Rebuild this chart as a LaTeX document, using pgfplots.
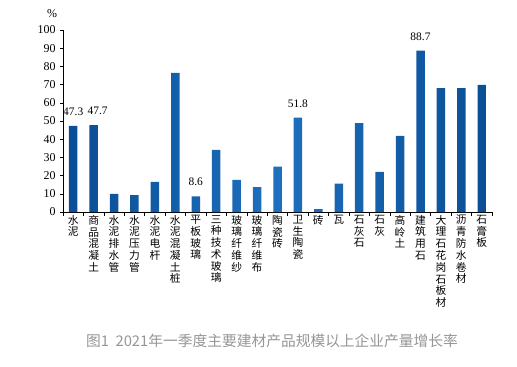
\documentclass[border=0pt]{standalone}
\usepackage{pgfplots}
\pgfplotsset{compat=1.18}
\usepackage{pgfplotstable}
\usepackage{fontspec}
\setmainfont{Liberation Serif}
\newfontfamily\cjk{Noto Sans CJK SC}
\definecolor{barmid}{RGB}{30,112,190}
\definecolor{baredge}{RGB}{10,78,150}
\definecolor{capgray}{RGB}{150,150,150}
\pgfplotstableread{
x y lab xs
0 47.3 47.3 0
1 47.7 47.7 4
2 9.9 {} 0
3 9.3 {} 0
4 16.5 {} 0
5 76.4 {} 0
6 8.6 8.6 0
7 34.1 {} 0
8 17.6 {} 0
9 13.7 {} 0
10 24.9 {} 0
11 51.8 51.8 0
12 1.6 {} 0
13 15.6 {} 0
14 48.9 {} 0
15 22.0 {} 0
16 41.8 {} 0
17 88.7 88.7 0
18 68.1 {} 0
19 68.1 {} 0
20 69.8 {} 0
}\data
\begin{document}
\begin{tikzpicture}
\path[use as bounding box] (-63bp,-155bp) rectangle (454bp,212bp);
\begin{axis}[
  at={(0,0)}, anchor=south west,
  scale only axis, width=429bp, height=182bp,
  xmin=-0.5, xmax=20.5, ymin=0, ymax=100,
  axis x line*=bottom, axis y line*=left,
  ytick={0,10,...,100},
  xtick={0,...,20},
  major x tick style={draw=none},
  minor xtick={-0.5,0.5,...,20.5},
  minor tick length=4bp,
  major tick length=3bp,
  tick align=outside,
  tick style={black, line width=0.6pt},
  axis line style={black, line width=0.6pt},
  /pgf/number format/assume math mode=true,
  yticklabel style={font=\fontsize{12}{12}\selectfont, xshift=-1bp},
  xticklabel style={font=\cjk\fontsize{10.8}{11.8}\selectfont, align=center, anchor=north, yshift=1bp, inner sep=1bp},
  xticklabels={{水\\泥},{商\\品\\混\\凝\\土},{水\\泥\\排\\水\\管},{水\\泥\\压\\力\\管},{水\\泥\\电\\杆},{水\\泥\\混\\凝\\土\\桩},{平\\板\\玻\\璃},{三\\种\\技\\术\\玻\\璃},{玻\\璃\\纤\\维\\纱},{玻\\璃\\纤\\维\\布},{陶\\瓷\\砖},{卫\\生\\陶\\瓷},{砖},{瓦},{石\\灰\\石},{石\\灰},{高\\岭\\土},{建\\筑\\用\\石},{大\\理\\石\\花\\岗\\石\\板\\材},{沥\\青\\防\\水\\卷\\材},{石\\膏\\板}},
  clip=false,
]
\addplot[ybar, bar width=8.5bp, draw=none, shading=axis, left color=baredge, right color=baredge, middle color=barmid,
  nodes near coords, point meta=explicit symbolic,
  visualization depends on={\thisrow{xs} \as \labxs},
  every node near coord/.append style={font=\fontsize{11.5}{11.5}\selectfont, black, yshift=9bp, xshift=\labxs bp, inner sep=1bp}]
  table[x=x, y=y, meta=lab]{\data};
\end{axis}
\node[font=\fontsize{12}{12}\selectfont] at (-11bp,198bp) {\%};
\node[font=\cjk\fontsize{14.8}{14.8}\selectfont, text=capgray] at (209bp,-129bp) {图1\ \ 2021年一季度主要建材产品规模以上企业产量增长率};
\end{tikzpicture}
\end{document}
